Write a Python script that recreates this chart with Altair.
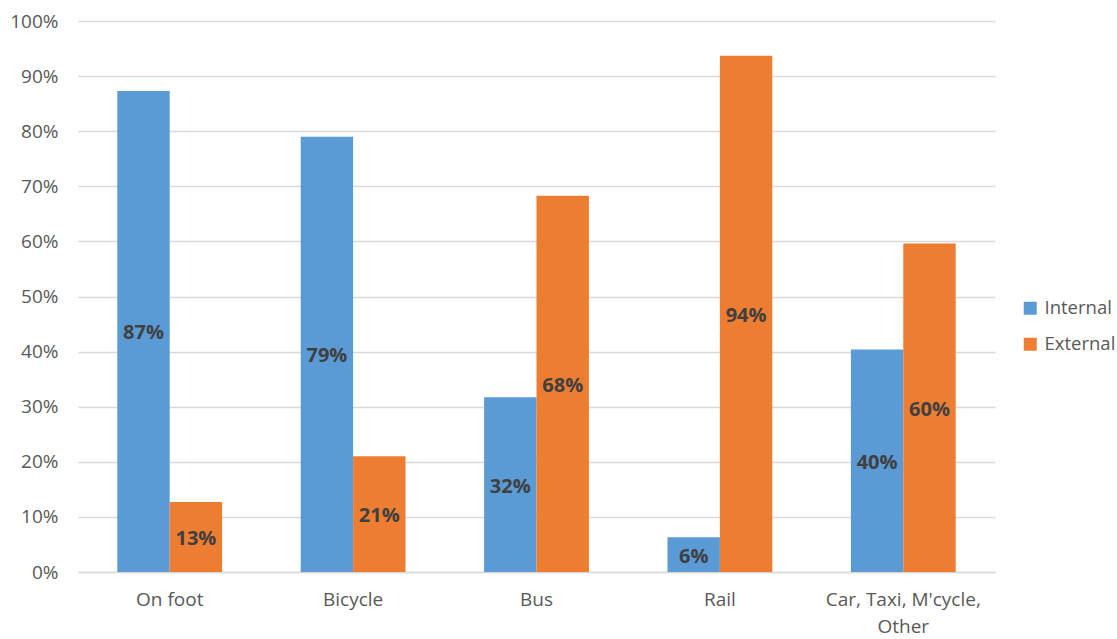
import altair as alt
import pandas as pd

modes = ["On foot", "Bicycle", "Bus", "Rail", "Car, Taxi, M'cycle, Other"]
internal = [87.3, 79.0, 31.7, 6.3, 40.4]
external = [12.7, 21.0, 68.3, 93.7, 59.6]
series = ["Internal", "External"]
colors = ["#5B9BD5", "#ED7D31"]

rows = []
for m, a, b in zip(modes, internal, external):
    rows.append({"mode": m, "series": "Internal", "share": a})
    rows.append({"mode": m, "series": "External", "share": b})
df = pd.DataFrame(rows)

font = "Open Sans"
grey = "#595959"

x = alt.X(
    "mode:N",
    sort=modes,
    title=None,
    scale=alt.Scale(paddingInner=0.4286, paddingOuter=0.2143),
    axis=alt.Axis(
        labelAngle=0,
        labelFontSize=19,
        labelColor=grey,
        labelFont=font,
        labelPadding=18,
        labelLineHeight=27,
        ticks=False,
        domainColor="#d9d9d9",
        domainWidth=1.3,
        labelExpr="split(replace(datum.label, 'cycle, ', 'cycle,|'), '|')",
    ),
)
xo = alt.XOffset("series:N", sort=series)

base = alt.Chart(df)

bars = base.mark_bar().encode(
    x=x,
    xOffset=xo,
    y=alt.Y(
        "share:Q",
        title=None,
        scale=alt.Scale(domain=[0, 100], nice=False),
        axis=alt.Axis(
            values=list(range(0, 101, 10)),
            labelExpr="datum.value + '%'",
            labelFontSize=19,
            labelColor=grey,
            labelFont=font,
            labelPadding=20,
            ticks=False,
            domain=False,
            gridColor="#d9d9d9",
            gridWidth=1.3,
        ),
    ),
    color=alt.Color(
        "series:N",
        sort=series,
        scale=alt.Scale(domain=series, range=colors),
        legend=alt.Legend(
            title=None,
            orient="none",
            legendX=943,
            legendY=278,
            symbolType="square",
            symbolSize=169,
            symbolStrokeWidth=0,
            labelFontSize=18.5,
            labelColor=grey,
            labelFont=font,
            rowPadding=17,
            labelOffset=5,
        ),
    ),
)

labels = base.transform_calculate(
    mid="datum.share / 2",
    txt="format(round(datum.share), 'd') + '%'",
).mark_text(
    font=font, fontSize=20, fontWeight="bold", color="#404040", dy=2
).encode(
    x=x,
    xOffset=xo,
    y=alt.Y("mid:Q"),
    text="txt:N",
)

chart = (
    alt.layer(bars, labels)
    .properties(
        width=917,
        height=551,
        autosize=alt.AutoSizeParams(type="none"),
        padding={"left": 78, "top": 21, "right": 122, "bottom": 67},
    )
    .configure_view(stroke=None)
)

chart.save("out.html", embed_options={"renderer": "svg", "actions": False})
